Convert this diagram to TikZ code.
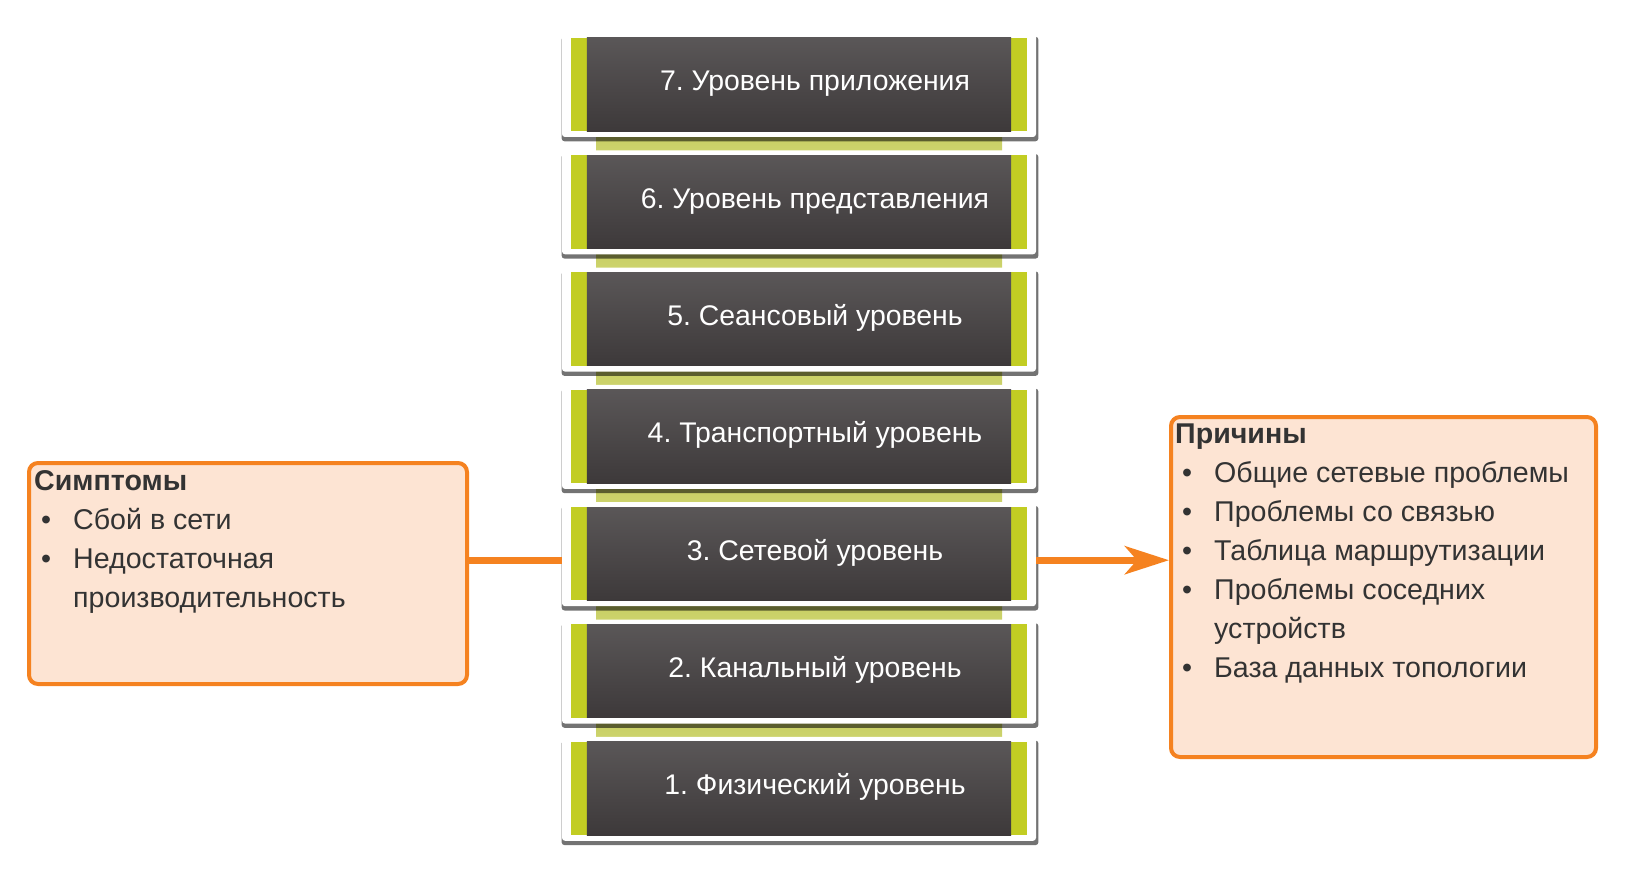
\documentclass[tikz,border=0pt]{standalone}
\usepackage{fontspec}
\setmainfont{Liberation Sans}
\usetikzlibrary{shadows,arrows.meta}
\definecolor{LayerClr}{HTML}{3D393A}
\definecolor{LimeClr}{HTML}{C2CD23}
\definecolor{OrangeClr}{HTML}{F58220}
\definecolor{PeachClr}{HTML}{FDE4D3}
\definecolor{InkClr}{HTML}{333333}

\begin{document}
\begin{tikzpicture}[x=1pt,y=-1pt,
  card/.style={fill=white,rounded corners=3pt,minimum width=474pt,minimum height=104pt,inner sep=0pt,
    drop shadow={shadow xshift=1pt,shadow yshift=-4pt,shadow scale=1.006,opacity=.55,fill=black}},
  layertext/.style={text=white,anchor=base,inner sep=0pt,font=\fontsize{28.4}{33}\selectfont\frenchspacing},
  notebox/.style={draw=OrangeClr,line width=4pt,fill=PeachClr,rounded corners=9pt,anchor=north west,inner sep=0pt},
  notetext/.style={text=InkClr,align=left,anchor=base west,inner sep=0pt,font=\fontsize{28.6}{39}\selectfont},
  link/.style={OrangeClr,line width=7pt}]
\useasboundingbox (0,0) rectangle (1633,869);

% rungs between the layers
\foreach \k in {0,...,5}
  \shade[top color=LimeClr!85!black!80,bottom color=LimeClr!55] (596,{85+117.3*\k}) rectangle (1002,{85+117.3*(\k+1)});

% the seven layers
\foreach \n/\name [count=\i from 0] in {7/Уровень приложения,6/Уровень представления,5/Сеансовый уровень,
    4/Транспортный уровень,3/Сетевой уровень,2/Канальный уровень,1/Физический уровень}{
  \node[card] (l\n) at (799,{85+117.3*\i}) {};
  \fill[LimeClr] ([xshift=9pt,yshift=-5pt]l\n.north west) rectangle ([xshift=-9pt,yshift=6pt]l\n.south east);
  \shade[top color=LayerClr!85!white,bottom color=LayerClr] ([xshift=25pt,yshift=-5pt]l\n.north west)
    rectangle ([xshift=-25pt,yshift=6pt]l\n.south east);
  \node[layertext] (t\n) at ([xshift=16pt,yshift=-6pt]l\n.center) {\n. \name};
}

% symptoms and causes (base = last line)
\node[notebox,minimum width=438pt,minimum height=221pt] (symp) at (27,461) {};
\node[notetext] (symptext) at (34,607) {\textbf{Симптомы}\\
  \hspace*{7pt}\makebox[32pt][l]{\textbullet}Сбой в сети\\
  \hspace*{7pt}\makebox[32pt][l]{\textbullet}Недостаточная\\
  \hspace*{39pt}производительность};

\node[notebox,minimum width=425pt,minimum height=340pt] (causes) at (1169,415) {};
\node[notetext] (causetext) at (1175,677) {\textbf{Причины}\\
  \hspace*{7pt}\makebox[32pt][l]{\textbullet}Общие сетевые проблемы\\
  \hspace*{7pt}\makebox[32pt][l]{\textbullet}Проблемы со связью\\
  \hspace*{7pt}\makebox[32pt][l]{\textbullet}Таблица маршрутизации\\
  \hspace*{7pt}\makebox[32pt][l]{\textbullet}Проблемы соседних\\
  \hspace*{39pt}устройств\\
  \hspace*{7pt}\makebox[32pt][l]{\textbullet}База данных топологии};

\draw[link] ([yshift=-6pt]l3.west) -- ([yshift=-6pt]l3.west -| symp.east);
\draw[link,-{Stealth[length=44pt,width=28pt,inset=12pt]}] ([yshift=-6pt]l3.east) -- ([yshift=-6pt]l3.east -| causes.west);

\end{tikzpicture}
\end{document}
